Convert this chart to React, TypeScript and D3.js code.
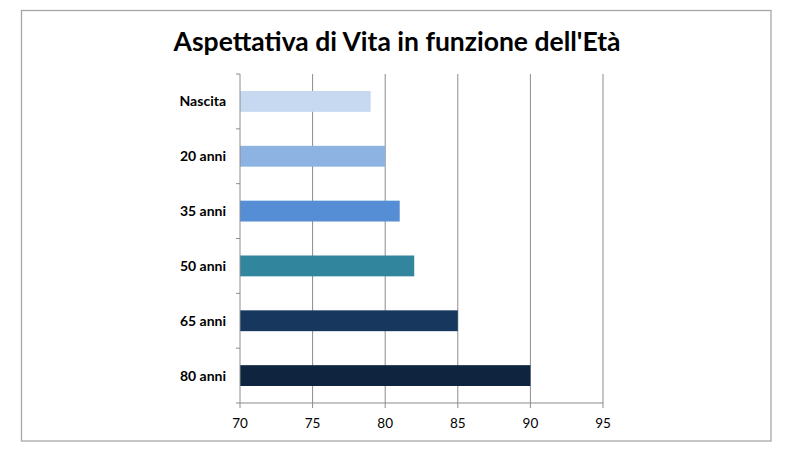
import React from "react";
import * as d3 from "d3";

const categories = ["Nascita", "20 anni", "35 anni", "50 anni", "65 anni", "80 anni"];
const values = [79, 80, 81, 82, 85, 90];
const colors = ["#C6D9F1", "#8DB3E2", "#558ED5", "#31859C", "#17375E", "#0F243E"];
const xTicks = [70, 75, 80, 85, 90, 95];
const title = "Aspettativa di Vita in funzione dell'Età";

export default function App() {
  const W = 800, H = 450;
  const left = 240, right = 603, top = 74, bottom = 403;
  const x = d3.scaleLinear().domain([70, 95]).range([left, right]);
  const y = d3.scaleBand<string>().domain(categories).range([top, bottom]).paddingInner(0.62).paddingOuter(0.31);
  const step = (bottom - top) / categories.length;
  const font = "Lato, 'Open Sans', sans-serif";
  return (
    <svg width={W} height={H} style={{ position: "absolute", left: 0, top: 0 }} fontFamily={font}>
      <rect x={0} y={0} width={W} height={H} fill="#fff" />
      <rect x={21.5} y={10.5} width={749.5} height={430.5} fill="#fff" stroke="#A6A6A6" strokeWidth={1.3} />
      <text x={397} y={51} textAnchor="middle" fontSize={26.5} fontWeight="bold" fill="#000">{title}</text>
      {xTicks.filter(t => t > 70).map(t => (
        <line key={t} x1={x(t)} x2={x(t)} y1={top} y2={bottom} stroke="#8C8C8C" strokeWidth={1} />
      ))}
      {categories.map((c, i) => (
        <rect key={c} x={x(70)} y={y(c)!} width={x(values[i]) - x(70)} height={y.bandwidth()} fill={colors[i]} />
      ))}
      <line x1={left} x2={left} y1={top} y2={bottom} stroke="#8C8C8C" />
      <line x1={left} x2={right} y1={bottom} y2={bottom} stroke="#8C8C8C" />
      {d3.range(categories.length + 1).map(i => (
        <line key={i} x1={left - 4} x2={left} y1={top + i * step} y2={top + i * step} stroke="#8C8C8C" />
      ))}
      {xTicks.map(t => (
        <line key={t} x1={x(t)} x2={x(t)} y1={bottom} y2={bottom + 5} stroke="#8C8C8C" />
      ))}
      {xTicks.map(t => (
        <text key={t} x={x(t)} y={428} textAnchor="middle" fontSize={13.5} fill="#000">{t}</text>
      ))}
      {categories.map(c => (
        <text key={c} x={226} y={y(c)! + y.bandwidth() / 2 + 5} textAnchor="end" fontSize={14} fontWeight="bold" fill="#000">{c}</text>
      ))}
    </svg>
  );
}
